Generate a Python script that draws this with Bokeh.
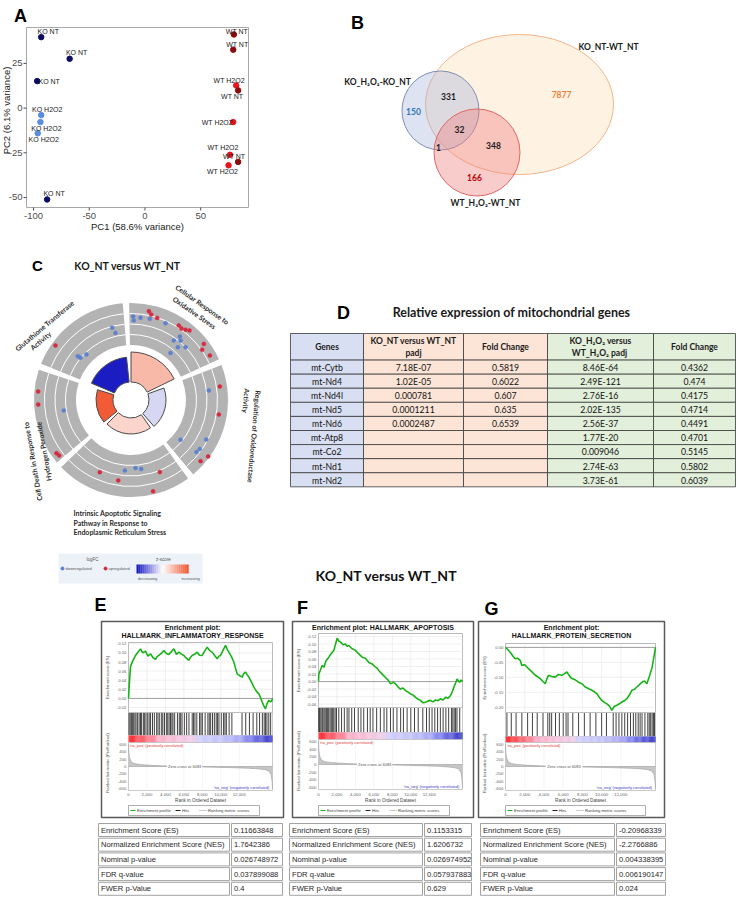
import math
from bokeh.plotting import figure
from bokeh.models import Range1d
from bokeh.embed import file_html
from bokeh.resources import INLINE
from bokeh.core.properties import value

# ======================= DATA =======================
# ---- A: PCA ----
pca_pc1 = [-93.1, -67.6, -96.7, -93.1, -93.8, -96.2, -87.8, 79.8, 79.2, 81.8, 83.6, 79.2, 76.3, 83.6, 75.0]
pca_pc2 = [39.7, 27.6, 15.1, -3.9, -7.8, -14.1, -51.1, 41.2, 32.7, 12.7, 9.9, -7.8, -26.1, -30.1, -32.0]
pca_group = ["KO NT", "KO NT", "KO NT", "KO H2O2", "KO H2O2", "KO H2O2", "KO NT",
             "WT NT", "WT NT", "WT H2O2", "WT NT", "WT H2O2", "WT H2O2", "WT NT", "WT H2O2"]
pca_x_ticks = [-100, -50, 0, 50]
pca_y_ticks = [-50, -25, 0, 25]
pca_x_title = "PC1 (58.6% variance)"
pca_y_title = "PC2 (6.1% variance)"

# ---- B: Venn ----
venn_set_names = ["KO_H₂O₂-KO_NT", "KO_NT-WT_NT", "WT_H₂O₂-WT_NT"]
venn_region = ["KO_H2O2 only", "KO_NT-WT_NT only", "WT_H2O2 only", "KO_H2O2 & KO_NT",
               "KO_H2O2 & WT_H2O2", "KO_NT & WT_H2O2", "all three"]
venn_count = [150, 7877, 166, 331, 1, 348, 32]

# ---- C: GOCircle ----
go_terms = ["Regulation of Oxidoreductase Activity", "Cellular Response to Oxidative Stress",
            "Glutathione Transferase Activity", "Cell Death in Response to Hydrogen Peroxide",
            "Intrinsic Apoptotic Signaling Pathway in Response to Endoplasmic Reticulum Stress"]
go_neglog10_padj = [3.4, 6.0, 5.0, 3.4, 3.2]
go_zscore = [-0.5, 1.2, -2.85, 2.8, 0.72]
go_gene_angle = [8.6, 7.0, -9.4, -38.8, -27.7, -35.4, -38.5, -36.2, -41.3,
                 88.5, 88.0, 83.4, 77.0, 78.6, 76.7, 72.3, 65.8, 57.3, 54.8, 52.2, 49.9,
                 52.4, 54.3, 50.2, 48.4, 44.1, 49.9, 37.6, 35.2, 29.4,
                 144.2, 104.6, 103.0, 140.5, 140.1, 134.4,
                 174.8, 182.8, 188.9, 215.5, 217.7,
                 246.6, 265.0, 273.8, 278.4, 261.0, 291.8, 283.6]
go_gene_logfc = [1.65, 0.29, 1.55, -1.49, 1.06, 1.00, 0.92, 2.33, 1.98,
                 0.89, 0.42, 0.80, 0.87, 1.74, 1.40, 1.21, 0.98, 1.49, 1.37, 1.54, 1.76,
                 0.49, -0.32, 0.17, -0.64, -0.01, -1.75, 1.90, 1.32, 1.73,
                 2.04, -0.17, -0.85, -0.85, -1.21, -1.46,
                 2.05, 2.01, -0.95, 1.85, 1.76,
                 0.31, -0.62, -0.92, -0.73, 0.65, 0.20, 2.14]
go_gene_reg = ["up", "down", "up", "down", "down", "down", "down", "up", "up",
               "down", "down", "down", "down", "up", "up", "up", "down", "up", "up", "up", "up",
               "down", "down", "down", "down", "down", "down", "up", "up", "up",
               "up", "down", "down", "down", "down", "down",
               "up", "up", "down", "up", "up",
               "up", "down", "down", "down", "up", "up", "up"]

# ---- D: table ----
mt_genes = ["mt-Cytb", "mt-Nd4", "mt-Nd4l", "mt-Nd5", "mt-Nd6", "mt-Atp8", "mt-Co2", "mt-Nd1", "mt-Nd2"]
ko_wt_padj = ["7.18E-07", "1.02E-05", "0.000781", "0.0001211", "0.0002487", "", "", "", ""]
ko_wt_fc = ["0.5819", "0.6022", "0.607", "0.635", "0.6539", "", "", "", ""]
h2o2_padj = ["8.46E-64", "2.49E-121", "2.76E-16", "2.02E-135", "2.56E-37", "1.77E-20", "0.009046", "2.74E-63", "3.73E-61"]
h2o2_fc = ["0.4362", "0.474", "0.4175", "0.4714", "0.4491", "0.4701", "0.5145", "0.5802", "0.6039"]
table_headers = [["Genes"], ["KO_NT versus WT_NT", "padj"], ["Fold Change"],
                 ["KO_H₂O₂ versus", "WT_H₂O₂  padj"], ["Fold Change"]]

# ---- E/F/G: GSEA ----
N_RANK = 15600
zero_cross = 6083
gsea_titles = [["Enrichment plot:", "HALLMARK_INFLAMMATORY_RESPONSE"],
               ["Enrichment plot: HALLMARK_APOPTOSIS"],
               ["Enrichment plot:", "HALLMARK_PROTEIN_SECRETION"]]
es_E = [(0, 0.0), (100, 0.035), (217, 0.070), (450, 0.082), (758, 0.0945), (1000, 0.101), (1300, 0.109),
        (1550, 0.100), (1842, 0.104), (2100, 0.093), (2383, 0.098), (2650, 0.090), (2925, 0.0857),
        (3100, 0.092), (3286, 0.0945), (3550, 0.099), (3828, 0.1055), (4100, 0.099), (4370, 0.0967),
        (4650, 0.103), (4911, 0.109), (5200, 0.097), (5453, 0.1018), (5700, 0.098), (5995, 0.0945),
        (6250, 0.089), (6536, 0.0835), (6700, 0.090), (6897, 0.0945), (7150, 0.097), (7439, 0.1018),
        (7700, 0.095), (7981, 0.0945), (8250, 0.104), (8523, 0.1128), (8800, 0.105), (9064, 0.1018),
        (9350, 0.094), (9606, 0.0872), (9800, 0.093), (9968, 0.0945), (10250, 0.106), (10509, 0.1166),
        (10700, 0.108), (10870, 0.1018), (11150, 0.092), (11412, 0.080), (11600, 0.066), (11773, 0.054),
        (12050, 0.050), (12315, 0.047), (12500, 0.055), (12676, 0.058), (12850, 0.052), (13037, 0.047),
        (13300, 0.037), (13579, 0.025), (13850, 0.016), (14121, 0.010), (14300, 0.002), (14482, -0.008),
        (14650, -0.016), (14843, -0.023), (15000, -0.012), (15205, -0.004), (15400, -0.008),
        (15568, -0.003), (15600, 0.0)]
es_F = [(0, 0.0), (35, 0.02), (200, 0.03), (400, 0.043), (600, 0.038), (800, 0.055), (1120, 0.065),
        (1300, 0.072), (1660, 0.083), (1850, 0.100), (2020, 0.1153), (2200, 0.108), (2390, 0.105),
        (2650, 0.098), (2925, 0.100), (3100, 0.094), (3285, 0.096), (3600, 0.088), (4010, 0.083),
        (4300, 0.075), (4735, 0.065), (5090, 0.062), (5455, 0.051), (5815, 0.047), (6100, 0.040),
        (6360, 0.036), (6540, 0.029), (6900, 0.020), (7260, 0.011), (7550, 0.004), (7800, -0.006),
        (8100, -0.002), (8340, -0.006), (8600, -0.014), (8880, -0.020), (9150, -0.017), (9425, -0.024),
        (9700, -0.028), (9965, -0.033), (10250, -0.036), (10510, -0.042), (10800, -0.047),
        (11050, -0.050), (11300, -0.056), (11590, -0.055), (11850, -0.052), (12135, -0.050),
        (12400, -0.054), (12675, -0.049), (12950, -0.051), (13210, -0.046), (13500, -0.049),
        (13760, -0.042), (14050, -0.044), (14300, -0.037), (14480, -0.028), (14660, -0.015),
        (14850, -0.004), (15020, 0.007), (15150, 0.002), (15280, -0.002), (15450, 0.004), (15600, 0.0)]
es_G = [(0, 0.0), (250, -0.008), (490, -0.016), (750, -0.028), (1010, -0.038), (1250, -0.036),
        (1530, -0.043), (1700, -0.060), (2000, -0.058), (2390, -0.071), (2700, -0.080), (3090, -0.093),
        (3350, -0.098), (3610, -0.104), (3850, -0.112), (4130, -0.121), (4300, -0.105), (4470, -0.093),
        (4800, -0.097), (5170, -0.099), (5500, -0.090), (5860, -0.093), (6100, -0.088), (6380, -0.082),
        (6650, -0.095), (6900, -0.104), (7250, -0.108), (7590, -0.116), (7950, -0.121), (8290, -0.132),
        (8650, -0.138), (8980, -0.143), (9250, -0.148), (9500, -0.154), (9750, -0.166), (10020, -0.177),
        (10300, -0.183), (10540, -0.188), (10800, -0.195), (11060, -0.2097), (11300, -0.197),
        (11580, -0.193), (11850, -0.188), (12100, -0.182), (12350, -0.178), (12620, -0.171),
        (12900, -0.158), (13140, -0.143), (13400, -0.140), (13660, -0.132), (13900, -0.125),
        (14180, -0.116), (14450, -0.112), (14700, -0.121), (14950, -0.098), (15220, -0.070),
        (15420, -0.035), (15600, 0.0)]
hits_E = [60, 180, 310, 420, 560, 700, 820, 990, 1150, 1300, 1420, 1610, 1750, 1900, 2080, 2240, 2390,
          2600, 2800, 3050, 3200, 3380, 3600, 3720, 3900, 4100, 4250, 4400, 4550, 4700, 4820, 5000,
          5300, 5500, 5650, 5800, 6050, 6300, 6550, 6900, 7050, 7200, 7400, 7700, 7850, 8000, 8300,
          8600, 8750, 8900, 9100, 9300, 9500, 9650, 9800, 10050, 10300, 10450, 10600, 10900, 11200,
          12300, 12700, 13100, 13500, 13900, 14200, 14500, 14700, 14850, 15000, 15200, 15400]
hits_F = [30, 120, 250, 380, 470, 600, 720, 850, 960, 1100, 1250, 1380, 1500, 1650, 1800, 1950, 2200,
          2500, 2800, 3100, 3300, 3600, 3900, 4300, 4600, 4900, 5300, 5600, 5900, 6300, 6700, 7100,
          7400, 7800, 8100, 8500, 8900, 9200, 9600, 10000, 10400, 10800, 11300, 11700, 12000, 12300,
          12600, 12900, 13200, 13500, 13800, 14100, 14400, 14550, 14700, 14850, 15000, 15300]
hits_G = [150, 600, 1100, 1700, 2300, 2800, 3300, 3900, 4400, 4600, 4800, 5200, 5600, 6000, 6300,
          6500, 7000, 7600, 8200, 8800, 9400, 10000, 10500, 11200, 11500, 11800, 12100, 12400, 12700,
          13000, 13300, 13550, 13800, 14000, 14200, 14500, 14800, 14950, 15100, 15250, 15400, 15500]
ranked_metric = [(0, 600), (40, 380), (100, 250), (250, 140), (600, 80), (1200, 55), (2000, 38),
                 (3000, 26), (4000, 16), (5000, 8), (6083, 0), (7000, -6), (8000, -12), (9000, -18),
                 (10000, -24), (11000, -30), (12000, -38), (13000, -48), (14000, -62), (14800, -85),
                 (15200, -120), (15450, -220), (15550, -400), (15600, -600)]
x_ticks = [0, 2000, 4000, 6000, 8000, 10000, 12000]
metric_ticks = [600, 400, 200, 0, -200, -400, -600]
es_ticks_E = [0.12, 0.10, 0.08, 0.06, 0.04, 0.02, 0.00, -0.02]
es_ticks_F = [0.12, 0.10, 0.08, 0.06, 0.04, 0.02, 0.00, -0.02, -0.04, -0.06]
es_ticks_G = [0.00, -0.05, -0.10, -0.15, -0.20]
stat_names = ["Enrichment Score (ES)", "Normalized Enrichment Score (NES)", "Nominal p-value",
              "FDR q-value", "FWER p-Value"]
stats_E = ["0.11663848", "1.7642386", "0.026748972", "0.037899088", "0.4"]
stats_F = ["0.1153315", "1.6206732", "0.026974952", "0.057937883", "0.629"]
stats_G = ["-0.20968339", "-2.2766886", "0.004338395", "0.006190147", "0.024"]

# ======================= CANVAS =======================
W, H = 736, 898


def X(v):
    return v


def Y(v):
    return H - v


p = figure(width=W, height=H, x_range=Range1d(0, W), y_range=Range1d(0, H),
           x_axis_type=None, y_axis_type=None, output_backend="svg",
           toolbar_location=None, min_border=0)
p.outline_line_color = None

ARIAL = value("Liberation Sans")
CAL = value("Lato")


def txt(x, y, s, size, font=ARIAL, style="normal", color="#000000",
        align="center", baseline="middle", angle=0.0):
    p.text(x=[X(x)], y=[Y(y)], text=[s], text_font=font,
           text_font_size=f"{size}px", text_font_style=style,
           text_color=color, text_align=align, text_baseline=baseline,
           angle=math.radians(angle))


def sub(xs, ys, xpx, ypx):
    return p.subplot(x_source=Range1d(*xs), y_source=Range1d(*ys),
                     x_target=Range1d(X(xpx[0]), X(xpx[1])),
                     y_target=Range1d(Y(ypx[0]), Y(ypx[1])))


def xband(xs, xpx):
    return p.subplot(x_source=Range1d(*xs), y_source=Range1d(0, H),
                     x_target=Range1d(X(xpx[0]), X(xpx[1])), y_target=Range1d(0, H))


def yband(ys, ypx):
    return p.subplot(x_source=Range1d(0, W), y_source=Range1d(*ys),
                     x_target=Range1d(0, W), y_target=Range1d(Y(ypx[0]), Y(ypx[1])))


# ======================= A: PCA =======================
A_fx, A_fy = (26, 248), (207, 27)
A_xr, A_yr = (-106.3, 92.9), (-55.6, 45.1)
grp_color = {"KO NT": "#0c0c62", "KO H2O2": "#5a8de0", "WT NT": "#8a0b0b", "WT H2O2": "#e8161b"}
lab_dx = [7, 7, 12, 6, 6, 6, 7, 3, 4, -7, -6, -16, -7, -4, -6]
lab_dy = [-6, -6, 0, -6, 6, 6, -6, -3, -5, -5, 6, 0, -7, -5, 6]
txt(20, 15, "A", 18, style="bold")
p.quad(left=X(A_fx[0]), right=X(A_fx[1]), top=Y(A_fy[1]), bottom=Y(A_fy[0]),
       fill_color="white", line_color="#a8a8a8", line_width=1)
ax_ = xband(A_xr, A_fx)
nx = len(pca_x_ticks)
ax_.segment(x0=pca_x_ticks, x1=pca_x_ticks, y0=[Y(207)] * nx, y1=[Y(210)] * nx,
            line_color="#4d4d4d", line_width=1)
ax_.text(x=pca_x_ticks, y=[Y(215)] * nx, text=[str(t) for t in pca_x_ticks], text_font=ARIAL,
         text_font_size="9.5px", text_color="#4d4d4d", text_align="center", text_baseline="middle")
ay_ = yband(A_yr, A_fy)
ny = len(pca_y_ticks)
ay_.segment(x0=[X(23)] * ny, x1=[X(26)] * ny, y0=pca_y_ticks, y1=pca_y_ticks,
            line_color="#4d4d4d", line_width=1)
ay_.text(x=[X(22)] * ny, y=pca_y_ticks, text=[str(t) for t in pca_y_ticks], text_font=ARIAL,
         text_font_size="9.5px", text_color="#4d4d4d", text_align="right", text_baseline="middle")
txt(137, 226, pca_x_title, 9.5, color="#1a1a1a")
txt(6, 110, pca_y_title, 9.5, color="#1a1a1a", angle=90)
pa = sub(A_xr, A_yr, A_fx, A_fy)
cols = [grp_color[g] for g in pca_group]
pa.scatter(x=pca_pc1, y=pca_pc2, size=5.5, fill_color=cols, line_color=cols)
pa.text(x=pca_pc1, y=pca_pc2, text=pca_group, x_offset=lab_dx, y_offset=lab_dy, text_font=ARIAL,
        text_font_size="7px", text_color="#1a1a1a", text_align="center", text_baseline="middle")

# ======================= B: Venn =======================
txt(357, 22, "B", 18, style="bold")
p.ellipse(x=[X(519)], y=[Y(104)], width=[188], height=[140], fill_color="#fbd9b0", fill_alpha=0.35,
          line_color="#f3b48a", line_width=1)
p.ellipse(x=[X(440)], y=[Y(110)], width=[77], height=[79], fill_color="#9fb0d8", fill_alpha=0.35,
          line_color="#7f8fb5", line_width=1)
p.ellipse(x=[X(476.5)], y=[Y(152)], width=[86], height=[87], fill_color="#f08080", fill_alpha=0.40,
          line_color="#e06666", line_width=1)
venn_name_pos = [(377, 81), (608, 46), (485, 202)]
for nm, (vx, vy) in zip(venn_set_names, venn_name_pos):
    txt(vx, vy, nm, 8.5, font=CAL, style="bold", color="#1a1a1a")
venn_count_pos = [(413, 111), (561, 94), (474, 177), (448, 96), (438, 147), (493, 145), (459, 129)]
venn_count_col = ["#2e75b6", "#e8803a", "#c00000", "#1a1a1a", "#1a1a1a", "#1a1a1a", "#1a1a1a"]
for c, (vx, vy), cc in zip(venn_count, venn_count_pos, venn_count_col):
    txt(vx, vy, str(c), 8.5, font=CAL, style="bold", color=cc)

# ======================= C: GOCircle =======================
txt(37, 265, "C", 15, style="bold")
txt(127, 265, "KO_NT versus WT_NT", 10.5, font=CAL, style="bold", color="#1a1a1a")
GC_X, GC_Y = X(130.5), Y(399.5)
R_IN, R_OUT = 55, 97
BAR_R0, BAR_K = 18, 5.0
LFC_R0, LFC_K = 76, 8.4
sec_start = [-52, 23, 93, 160, 222]
sec_end = [23, 93, 160, 222, 308]


def zcol(z):
    lo, hi = (16, 16, 192), (240, 80, 40)
    t = max(-1.0, min(1.0, z / 3.0))
    c = lo if t < 0 else hi
    f = abs(t)
    return "#%02x%02x%02x" % tuple(round(255 + (ci - 255) * f) for ci in c)


rad = math.radians
p.annular_wedge(x=[GC_X] * 5, y=[GC_Y] * 5, inner_radius=R_IN, outer_radius=R_OUT,
                start_angle=[rad(s + 1.9) for s in sec_start], end_angle=[rad(e - 1.9) for e in sec_end],
                fill_color="#b3b3b3", line_color=None)
for rr in [LFC_R0 - 1.25 * LFC_K, LFC_R0, LFC_R0 + 1.25 * LFC_K]:
    p.arc(x=[GC_X] * 5, y=[GC_Y] * 5, radius=rr,
          start_angle=[rad(s + 1.9) for s in sec_start], end_angle=[rad(e - 1.9) for e in sec_end],
          line_color="white", line_width=1)
p.annular_wedge(x=[GC_X] * 5, y=[GC_Y] * 5, inner_radius=BAR_R0,
                outer_radius=[BAR_R0 + BAR_K * v for v in go_neglog10_padj],
                start_angle=[rad(s + 3) for s in sec_start], end_angle=[rad(e - 3) for e in sec_end],
                fill_color=[zcol(z) for z in go_zscore], line_color="#4a4a4a", line_width=1)
gx = [GC_X + (LFC_R0 + LFC_K * l) * math.cos(rad(a)) for a, l in zip(go_gene_angle, go_gene_logfc)]
gy = [GC_Y + (LFC_R0 + LFC_K * l) * math.sin(rad(a)) for a, l in zip(go_gene_angle, go_gene_logfc)]
gcol = ["#d7263d" if r == "up" else "#5b7fcf" for r in go_gene_reg]
p.scatter(x=gx, y=gy, size=4.0, fill_color=gcol, line_color=gcol, line_width=0.5, fill_alpha=0.95)
go_label_lines = [
    ("Regulation of Oxidoreductase", 258, 390, -95, "left"),
    ("Activity", 247, 388, -95, "left"),
    ("Cellular Response to", 202, 304, -35, "center"),
    ("Oxidative Stress", 194, 312, -35, "center"),
    ("Glutathione Transferase", 44, 325, 40, "center"),
    ("Activity", 40, 340, 40, "center"),
    ("Cell Death in Response to", 32, 461, 100, "center"),
    ("Hydrogen Peroxide", 43, 451, 100, "center"),
    ("Intrinsic Apoptotic Signaling", 73, 512, 0, "left"),
    ("Pathway in Response to", 73, 522, 0, "left"),
    ("Endoplasmic Reticulum Stress", 73, 531, 0, "left"),
]
for s, lx, ly, ang, al in go_label_lines:
    txt(lx, ly, s, 7, font=CAL, style="bold", color="#2b2b2b", align=al, angle=ang)
# legend
p.quad(left=X(58), right=X(202), top=Y(553), bottom=Y(583), fill_color="#edf2f9", line_color=None)
txt(92, 559, "logFC", 4.5, color="#555555")
txt(163, 559, "z-score", 4.5, color="#555555")
p.scatter(x=[X(62)], y=[Y(568)], size=3, color="#5b7fcf")
txt(65, 568, "downregulated", 4, color="#555555", align="left")
p.scatter(x=[X(105)], y=[Y(568)], size=3, color="#d7263d")
txt(108, 568, "upregulated", 4, color="#555555", align="left")
zs = [-3 + 6 * (i + 0.5) / 26 for i in range(26)]
zl = [136 + 52 * i / 26 for i in range(26)]
p.quad(left=[X(v) for v in zl], right=[X(v + 52 / 26 + 0.2) for v in zl], top=Y(564), bottom=Y(573),
       fill_color=[zcol(z) for z in zs], line_color=None)
txt(147, 578, "decreasing", 4, color="#555555")
txt(190, 578, "increasing", 4, color="#555555")

# ======================= D: table =======================
txt(343, 312, "D", 18, style="bold")
txt(511, 312, "Relative expression of mitochondrial genes", 12.5, font=CAL, style="bold", color="#1a1a1a")
col_edges = [290, 363, 463, 547, 653, 735]
col_fill = ["#d9dff3", "#fce4d6", "#fce4d6", "#e2efda", "#e2efda"]
head_top, head_bot, row_h = 333, 359.6, 14.08
for ci in range(5):
    p.quad(left=X(col_edges[ci]), right=X(col_edges[ci + 1]), top=Y(head_top), bottom=Y(head_bot),
           fill_color=col_fill[ci], line_color="#3a3a3a", line_width=0.8)
    lines = table_headers[ci]
    cxm = (col_edges[ci] + col_edges[ci + 1]) / 2
    if len(lines) == 1:
        txt(cxm, 346.5, lines[0], 8.5, font=CAL, style="bold", color="#1a1a1a")
    else:
        txt(cxm, 340.5, lines[0], 8.5, font=CAL, style="bold", color="#1a1a1a")
        txt(cxm, 352.5, lines[1], 8.5, font=CAL, style="bold", color="#1a1a1a")
cols_data = [mt_genes, ko_wt_padj, ko_wt_fc, h2o2_padj, h2o2_fc]
for ri in range(len(mt_genes)):
    t = head_bot + ri * row_h
    for ci in range(5):
        p.quad(left=X(col_edges[ci]), right=X(col_edges[ci + 1]), top=Y(t), bottom=Y(t + row_h),
               fill_color=col_fill[ci], line_color="#3a3a3a", line_width=0.8)
        s = cols_data[ci][ri]
        if s:
            txt((col_edges[ci] + col_edges[ci + 1]) / 2, t + row_h / 2 + 0.3, s, 8.7, font=CAL, color="#111111")

txt(386, 575, "KO_NT versus WT_NT", 14, font=CAL, style="bold", color="#111111")

# ======================= E/F/G: GSEA =======================
grad_stops = [(0, (250, 40, 45)), (1500, (252, 95, 105)), (3000, (250, 150, 170)), (3100, (250, 172, 196)),
              (5000, (246, 192, 216)), (7300, (236, 208, 236)), (7400, (208, 206, 250)),
              (10000, (196, 196, 250)), (12000, (170, 170, 246)), (13300, (122, 122, 236)),
              (15600, (58, 58, 200))]


def grad_color(r):
    for (r0, c0), (r1, c1) in zip(grad_stops[:-1], grad_stops[1:]):
        if r0 <= r <= r1:
            f = (r - r0) / (r1 - r0)
            return "#%02x%02x%02x" % tuple(round(a + (b - a) * f) for a, b in zip(c0, c1))
    return "#3a3ac8"


NG = 130
g_edges = [N_RANK * i / NG for i in range(NG + 1)]
g_cols = [grad_color((g_edges[i] + g_edges[i + 1]) / 2) for i in range(NG)]

layouts = [
    dict(letter="E", lpos=(100, 604), box=(101, 283, 621, 817), title_y=[627, 635], px=(128, 272),
         es_y=(642, 712), es_rng=(-0.031, 0.123), hits_y=(712, 735), grad_y=(735, 742), rm_y=(742, 790),
         leg_w=131, tab_x=(98, 229, 231, 282)),
    dict(letter="F", lpos=(302, 607), box=(292, 473, 621, 817), title_y=[627], px=(318, 462),
         es_y=(633, 707), es_rng=(-0.069, 0.128), hits_y=(707, 732), grad_y=(732, 739), rm_y=(739, 789),
         leg_w=131, tab_x=(289, 422, 424, 471)),
    dict(letter="G", lpos=(491, 608), box=(478, 664, 621, 817), title_y=[627, 635], px=(505, 655),
         es_y=(643, 712), es_rng=(-0.217, 0.013), hits_y=(712, 736), grad_y=(736, 742), rm_y=(742, 790),
         leg_w=140, tab_x=(480, 614, 616, 665)),
]
SM = "4.3px"
GREY_T = "#666666"


def gsea_panel(L, title_lines, es_pairs, es_ticks, hits, stats):
    bx0, bx1, by0, by1 = L["box"]
    px0, px1 = L["px"]
    xr = (0, N_RANK)
    p.quad(left=X(bx0), right=X(bx1), top=Y(by0), bottom=Y(by1), fill_color="white",
           line_color="#5a5a5a", line_width=1.5)
    txt(L["lpos"][0], L["lpos"][1], L["letter"], 18, style="bold")
    cxm = (bx0 + bx1) / 2
    for t, ty in zip(title_lines, L["title_y"]):
        txt(cxm, ty, t, 7, style="bold", color="#141414")
    bx = xband(xr, (px0, px1))
    # --- ES plot ---
    et, eb = L["es_y"]
    lo, hi = L["es_rng"]
    p.quad(left=X(px0), right=X(px1), top=Y(et), bottom=Y(eb), fill_color="white",
           line_color="#a8a8a8", line_width=0.8)
    gxs = x_ticks[1:]
    bx.segment(x0=gxs, x1=gxs, y0=[Y(eb)] * len(gxs), y1=[Y(et)] * len(gxs), line_color="#e6e6e6",
               line_width=0.6)
    ey = yband((lo, hi), (eb, et))
    n = len(es_ticks)
    ey.segment(x0=[X(px0)] * n, x1=[X(px1)] * n, y0=es_ticks, y1=es_ticks, line_color="#e6e6e6",
               line_width=0.6)
    es = sub(xr, (lo, hi), (px0, px1), (eb, et))
    es.line(x=[0, N_RANK], y=[0, 0], line_color="#8a8a8a", line_width=0.8)
    es.line(x=[r for r, _ in es_pairs], y=[v for _, v in es_pairs], line_color="#17b317", line_width=1.6)
    ey.text(x=[X(px0 - 2)] * n, y=es_ticks, text=[f"{t:.2f}" for t in es_ticks], text_font=ARIAL,
            text_font_size=SM, text_color=GREY_T, text_align="right", text_baseline="middle")
    txt(bx0 + 6, (et + eb) / 2, "Enrichment score (ES)", 4.3, color="#555555", angle=90)
    # --- hits ---
    ht, hb = L["hits_y"]
    p.quad(left=X(px0), right=X(px1), top=Y(ht), bottom=Y(hb), fill_color="white",
           line_color="#a8a8a8", line_width=0.6)
    bx.segment(x0=hits, x1=hits, y0=[Y(hb - 0.5)] * len(hits), y1=[Y(ht + 0.5)] * len(hits),
               line_color="#111111", line_width=0.8)
    # --- gradient ---
    gt, gb = L["grad_y"]
    bx.quad(left=g_edges[:-1], right=[e + 20 for e in g_edges[1:]], top=[Y(gt)] * NG, bottom=[Y(gb)] * NG,
            fill_color=g_cols, line_color=None)
    # --- ranked metric ---
    rt, rb = L["rm_y"]
    p.quad(left=X(px0), right=X(px1), top=Y(gb), bottom=Y(rb), fill_color="white",
           line_color="#a8a8a8", line_width=0.6)
    bx.segment(x0=gxs, x1=gxs, y0=[Y(rb)] * len(gxs), y1=[Y(gb)] * len(gxs), line_color="#ececec",
               line_width=0.6)
    rm = sub(xr, (-650, 650), (px0, px1), (rb, rt))
    ry = yband((-650, 650), (rb, rt))
    mr = [r for r, _ in ranked_metric]
    mv = [v for _, v in ranked_metric]
    rm.varea(x=mr, y1=mv, y2=[0] * len(mr), fill_color="#c6c6c6")
    rm.line(x=mr, y=mv, line_color="#9c9c9c", line_width=0.6)
    rm.line(x=[0, N_RANK], y=[0, 0], line_color="#9c9c9c", line_width=0.6)
    rm.quad(left=[zero_cross - 1900], right=[zero_cross + 1900], top=[55], bottom=[-55],
            fill_color="white", line_color=None)
    rm.text(x=[zero_cross], y=[0], text=[f"Zero cross at {zero_cross}"], text_font=ARIAL,
            text_font_size="4px", text_color="#555555", text_align="center", text_baseline="middle")
    bx.text(x=[120], y=[Y(gb + 3)], text=["'na_pos' (positively correlated)"], text_font=ARIAL,
            text_font_size="4px", text_color="#e03a3a", text_align="left", text_baseline="middle")
    bx.text(x=[N_RANK - 350], y=[Y(rb - 3.5)], text=["'na_neg' (negatively correlated)"], text_font=ARIAL,
            text_font_size="4px", text_color="#3a3acc", text_align="right", text_baseline="middle")
    nm = len(metric_ticks)
    ry.text(x=[X(px0 - 2)] * nm, y=metric_ticks, text=[str(t) for t in metric_ticks], text_font=ARIAL,
            text_font_size=SM, text_color=GREY_T, text_align="right", text_baseline="middle")
    txt(bx0 + 6, (gt + rb) / 2, "Ranked list metric (PreRanked)", 4.3, color="#555555", angle=90)
    bx.text(x=x_ticks, y=[Y(794)] * len(x_ticks), text=[f"{t:,}" for t in x_ticks], text_font=ARIAL,
            text_font_size=SM, text_color=GREY_T, text_align="center", text_baseline="middle")
    bx.text(x=[N_RANK / 2], y=[Y(800)], text=["Rank in Ordered Dataset"], text_font=ARIAL,
            text_font_size="4.6px", text_color="#444444", text_align="center", text_baseline="middle")
    # --- legend ---
    lx0 = px0
    lw = L["leg_w"]
    p.quad(left=X(lx0), right=X(lx0 + lw), top=Y(805), bottom=Y(815), fill_color="white",
           line_color="#8c8c8c", line_width=0.7)
    p.segment(x0=[X(lx0 + 2)], x1=[X(lx0 + 7)], y0=[Y(810)], y1=[Y(810)], line_color="#17b317", line_width=1)
    txt(lx0 + 8.5, 810, "Enrichment profile", 4.2, color="#444444", align="left")
    p.segment(x0=[X(lx0 + 47)], x1=[X(lx0 + 52)], y0=[Y(810)], y1=[Y(810)], line_color="#222222", line_width=1)
    txt(lx0 + 53.5, 810, "Hits", 4.2, color="#444444", align="left")
    p.segment(x0=[X(lx0 + 71)], x1=[X(lx0 + 78)], y0=[Y(810)], y1=[Y(810)], line_color="#999999",
              line_width=1, line_dash="1 1")
    txt(lx0 + 79.5, 810, "Ranking metric scores", 4.2, color="#444444", align="left")
    # --- stats table ---
    c1a, c1b, c2a, c2b = L["tab_x"]
    for i in range(len(stat_names)):
        t = 823 + 14.7 * i
        b = t + 13
        p.quad(left=[X(c1a), X(c2a)], right=[X(c1b), X(c2b)], top=[Y(t)] * 2, bottom=[Y(b)] * 2,
               fill_color="white", line_color="#8c8c8c", line_width=0.8)
        txt(c1a + 2.5, (t + b) / 2, stat_names[i], 7.6, color="#1e1e1e", align="left")
        txt(c2a + 2.5, (t + b) / 2, stats[i], 7.6, color="#1e1e1e", align="left")


gsea_panel(layouts[0], gsea_titles[0], es_E, es_ticks_E, hits_E, stats_E)
gsea_panel(layouts[1], gsea_titles[1], es_F, es_ticks_F, hits_F, stats_F)
gsea_panel(layouts[2], gsea_titles[2], es_G, es_ticks_G, hits_G, stats_G)

open("out.html", "w").write(file_html(p, INLINE))
